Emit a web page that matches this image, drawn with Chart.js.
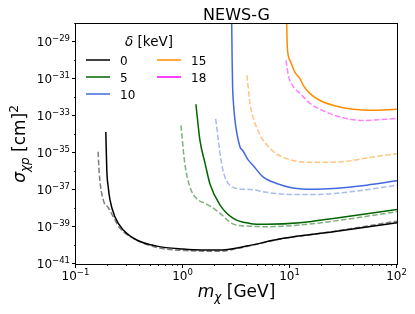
<!DOCTYPE html>
<html>
<head>
<meta charset="utf-8">
<script src="https://cdn.jsdelivr.net/npm/chart.js@4"></script>
<style>
  html, body { margin: 0; padding: 0; background: #fff; }
</style>
</head>
<body>
<canvas id="chart" width="415" height="314"></canvas>
<script>
// delta = 0 keV
const m0 = [0.19, 0.194, 0.2, 0.208, 0.231, 0.277, 0.369, 0.568, 1.0, 1.5, 2.2, 3.2, 4.23, 8.65, 25.4, 100]
const s0 = [1.4e-34, 1.2e-36, 1.5e-37, 2.9e-38, 3.6e-39, 6.9e-40, 2.0e-40, 9.3e-41, 6.4e-41, 5.7e-41, 5.7e-41, 7.4e-41, 1.02e-40, 2.45e-40, 5.6e-40, 1.7e-39]
const m0d = [0.161, 0.165, 0.18, 0.2, 0.223, 0.258, 0.343, 0.568, 1.16, 2.2, 3.2, 4.23, 8.65, 25.4, 100]
const s0d = [1.2e-35, 7.9e-37, 2.9e-38, 1.15e-38, 3.6e-39, 8.5e-40, 2.45e-40, 7.9e-41, 5.2e-41, 4.9e-41, 6.9e-41, 9.8e-41, 2.4e-40, 5.8e-40, 2.1e-39]

// delta = 5 keV
const m5 = [1.32, 1.44, 1.61, 1.79, 2.22, 2.95, 4.23, 6.05, 12.4, 25.4, 100]
const s5 = [4.5e-33, 5.0e-35, 2.75e-36, 2.1e-37, 1.55e-38, 2.95e-39, 1.58e-39, 1.41e-39, 1.7e-39, 2.95e-39, 9.1e-39]
const m5d = [0.957, 1.04, 1.16, 1.34, 1.61, 1.87, 2.22, 2.95, 4.23, 6.05, 12.4, 25.4, 100]
const s5d = [3.2e-34, 2.75e-36, 1.5e-37, 3.5e-38, 1.9e-38, 1.2e-38, 5.5e-39, 1.45e-39, 1.12e-39, 1.05e-39, 1.3e-39, 2.1e-39, 6.8e-39]

// delta = 10 keV
const m10 = [2.84, 2.88, 2.91, 2.95, 3.06, 3.41, 3.6, 4.08, 4.5, 5.6, 7.5, 10.6, 17, 25.4, 52, 100]
const s10 = [1e-27, 1e-30, 3.8e-32, 7.2e-33, 6.0e-34, 2.2e-35, 1.45e-35, 4.2e-36, 2.24e-36, 5.2e-37, 2.3e-37, 1.32e-37, 1.12e-37, 1.23e-37, 1.86e-37, 3.2e-37]
const m10d = [2.02, 2.22, 2.34, 2.47, 2.65, 3.17, 4.23, 6.05, 10, 17.8, 36.4, 100]
const s10d = [7.2e-34, 9.5e-36, 1.55e-36, 5.0e-37, 2.3e-37, 1.23e-37, 1.1e-37, 7.6e-38, 5.9e-38, 5.9e-38, 8.1e-38, 1.86e-37]

// delta = 15 keV
const m15 = [9.25, 9.44, 10.0, 11.1, 12.4, 13.3, 15.4, 19.1, 27.3, 39.1, 56.0, 100]
const s15 = [1e-27, 5.6e-30, 1.07e-30, 2.45e-31, 1.1e-31, 4.8e-32, 1.7e-32, 7.2e-33, 3.5e-33, 2.4e-33, 2.1e-33, 2.4e-33]
const m15d = [3.96, 4.23, 5.02, 6.79, 10, 15.4, 29.3, 60.1, 100]
const s15d = [1.66e-31, 5.0e-33, 1.74e-34, 1.45e-35, 4.5e-36, 3.2e-36, 3.4e-36, 6.3e-36, 9.5e-36]

// delta = 18 keV (only the dashed curve is inside the frame)
const m18d = [9.18, 9.65, 10.7, 12.4, 15.4, 22.0, 31.5, 48.4, 100]
const s18d = [1.07e-30, 1.66e-31, 4.2e-32, 1.74e-32, 5.0e-33, 1.66e-33, 8.3e-34, 6.0e-34, 7.6e-34]

const deltas = ["0", "5", "10", "15", "18"]
const colors = ["#000000", "#006400", "#4169e1", "#ff8c00", "#ff00ff"]
const fadedColors = ["rgba(0,0,0,0.5)", "rgba(0,100,0,0.5)", "rgba(65,105,225,0.45)", "rgba(255,140,0,0.5)", "rgba(255,0,255,0.5)"]

const xTicks = [0.1, 1, 10, 100]
const yTicks = [-41, -39, -37, -35, -33, -31, -29]

const FONT = "'DejaVu Sans', sans-serif"

const pts = (m, s) => m.map((x, i) => ({ x: x, y: s[i] }))

const solid = (m, s, c) => ({
  data: pts(m, s),
  borderColor: c,
  borderWidth: 1.5,
  showLine: true,
  cubicInterpolationMode: "monotone",
})
const dashed = (m, s, c) => ({
  data: pts(m, s),
  borderColor: c,
  borderWidth: 1.5,
  borderDash: [5.5, 2.4],
  showLine: true,
  cubicInterpolationMode: "monotone",
})

// "10" with a superscript exponent
function drawPow(ctx, exp, x, baseY, align) {
  const base = "10"
  const supTxt = exp < 0 ? "\u2212" + String(Math.abs(exp)) : String(exp)
  ctx.font = "12px " + FONT
  const w1 = ctx.measureText(base).width
  ctx.font = "8.5px " + FONT
  const w2 = ctx.measureText(supTxt).width
  const total = w1 + w2
  let start = x - total / 2
  if (align === "right") start = x - total
  ctx.textAlign = "left"
  ctx.textBaseline = "alphabetic"
  ctx.font = "12px " + FONT
  ctx.fillText(base, start, baseY)
  ctx.font = "8.5px " + FONT
  ctx.fillText(supTxt, start + w1, baseY - 5.5)
}

// list of [text, size, italic, shift] pieces
function drawPieces(ctx, pieces, x, y, center) {
  let total = 0
  pieces.forEach((p) => {
    ctx.font = (p[2] ? "italic " : "") + p[1] + "px " + FONT
    total += ctx.measureText(p[0]).width
  })
  let cx = center ? x - total / 2 : x
  pieces.forEach((p) => {
    ctx.font = (p[2] ? "italic " : "") + p[1] + "px " + FONT
    ctx.fillText(p[0], cx, y + p[3])
    cx += ctx.measureText(p[0]).width
  })
}

const decor = {
  id: "decor",
  afterDatasetsDraw(chart) {
    const ctx = chart.ctx
    const a = chart.chartArea
    const xs = chart.scales.x
    const ys = chart.scales.y
    ctx.save()
    ctx.fillStyle = "#000"
    ctx.strokeStyle = "#000"

    // frame
    ctx.lineWidth = 1
    ctx.strokeRect(a.left - 0.5, a.top - 0.5, a.right - a.left + 1, a.bottom - a.top + 1)

    // x ticks
    xTicks.forEach((v) => {
      const px = Math.round(xs.getPixelForValue(v)) - 0.5
      ctx.beginPath()
      ctx.moveTo(px, a.bottom)
      ctx.lineTo(px, a.bottom + 4)
      ctx.stroke()
      drawPow(ctx, Math.round(Math.log10(v)), px, 280, "center")
    })
    ctx.lineWidth = 0.8
    for (let d = 0.1; d < 100; d *= 10) {
      for (let k = 2; k <= 9; k++) {
        const px = Math.round(xs.getPixelForValue(d * k)) - 0.5
        ctx.beginPath()
        ctx.moveTo(px, a.bottom)
        ctx.lineTo(px, a.bottom + 2)
        ctx.stroke()
      }
    }

    // y ticks
    ctx.lineWidth = 1
    yTicks.forEach((e) => {
      const py = Math.round(ys.getPixelForValue(Math.pow(10, e))) - 0.5
      ctx.beginPath()
      ctx.moveTo(a.left - 4, py)
      ctx.lineTo(a.left, py)
      ctx.stroke()
      drawPow(ctx, e, a.left - 6, py + 4.5, "right")
    })
    ctx.lineWidth = 0.8
    for (let e = -40; e <= -28; e += 2) {
      const py = Math.round(ys.getPixelForValue(Math.pow(10, e))) - 0.5
      ctx.beginPath()
      ctx.moveTo(a.left - 2, py)
      ctx.lineTo(a.left, py)
      ctx.stroke()
    }

    ctx.textAlign = "left"
    ctx.textBaseline = "alphabetic"

    // title
    ctx.font = "16px " + FONT
    ctx.textAlign = "center"
    ctx.fillText("NEWS-G", (a.left + a.right) / 2, 20)
    ctx.textAlign = "left"

    // axis titles
    drawPieces(ctx, [["m", 17, true, 0], ["\u03c7", 12, true, 4], [" [GeV]", 17, false, 0]], (a.left + a.right) / 2, 297, true)
    ctx.save()
    ctx.translate(25, (a.top + a.bottom) / 2)
    ctx.rotate(-Math.PI / 2)
    drawPieces(ctx, [["\u03c3", 17, true, 0], ["\u03c7p", 12, true, 4], [" [cm]", 17, false, 0], ["2", 12, false, -7]], 0, 0, true)
    ctx.restore()

    // legend
    drawPieces(ctx, [["\u03b4", 13.5, true, 0], [" [keV]", 13.5, false, 0]], 149, 46, true)
    const slots = [[86, 60], [86, 77], [86, 94], [157, 60], [157, 77]]
    ctx.lineWidth = 1.5
    deltas.forEach((d, i) => {
      const [lx, ly] = slots[i]
      ctx.strokeStyle = colors[i]
      ctx.beginPath()
      ctx.moveTo(lx, ly)
      ctx.lineTo(lx + 24, ly)
      ctx.stroke()
      ctx.font = "12px " + FONT
      ctx.fillText(d, lx + 34, ly + 4.5)
    })
    ctx.restore()
  },
}

new Chart(document.getElementById("chart"), {
  type: "scatter",
  data: {
    datasets: [
      solid(m0, s0, colors[0]),
      solid(m5, s5, colors[1]),
      solid(m10, s10, colors[2]),
      solid(m15, s15, colors[3]),
      dashed(m0d, s0d, fadedColors[0]),
      dashed(m5d, s5d, fadedColors[1]),
      dashed(m10d, s10d, fadedColors[2]),
      dashed(m15d, s15d, fadedColors[3]),
      dashed(m18d, s18d, fadedColors[4]),
    ],
  },
  options: {
    responsive: false,
    animation: false,
    layout: { padding: { left: 76, right: 18, top: 24, bottom: 50 } },
    elements: { point: { radius: 0 } },
    plugins: { legend: { display: false }, tooltip: { enabled: false } },
    scales: {
      x: { type: "logarithmic", min: 0.1, max: 100, display: false },
      y: { type: "logarithmic", min: 1e-41, max: 1e-28, display: false },
    },
  },
  plugins: [decor],
})
</script>
</body>
</html>
